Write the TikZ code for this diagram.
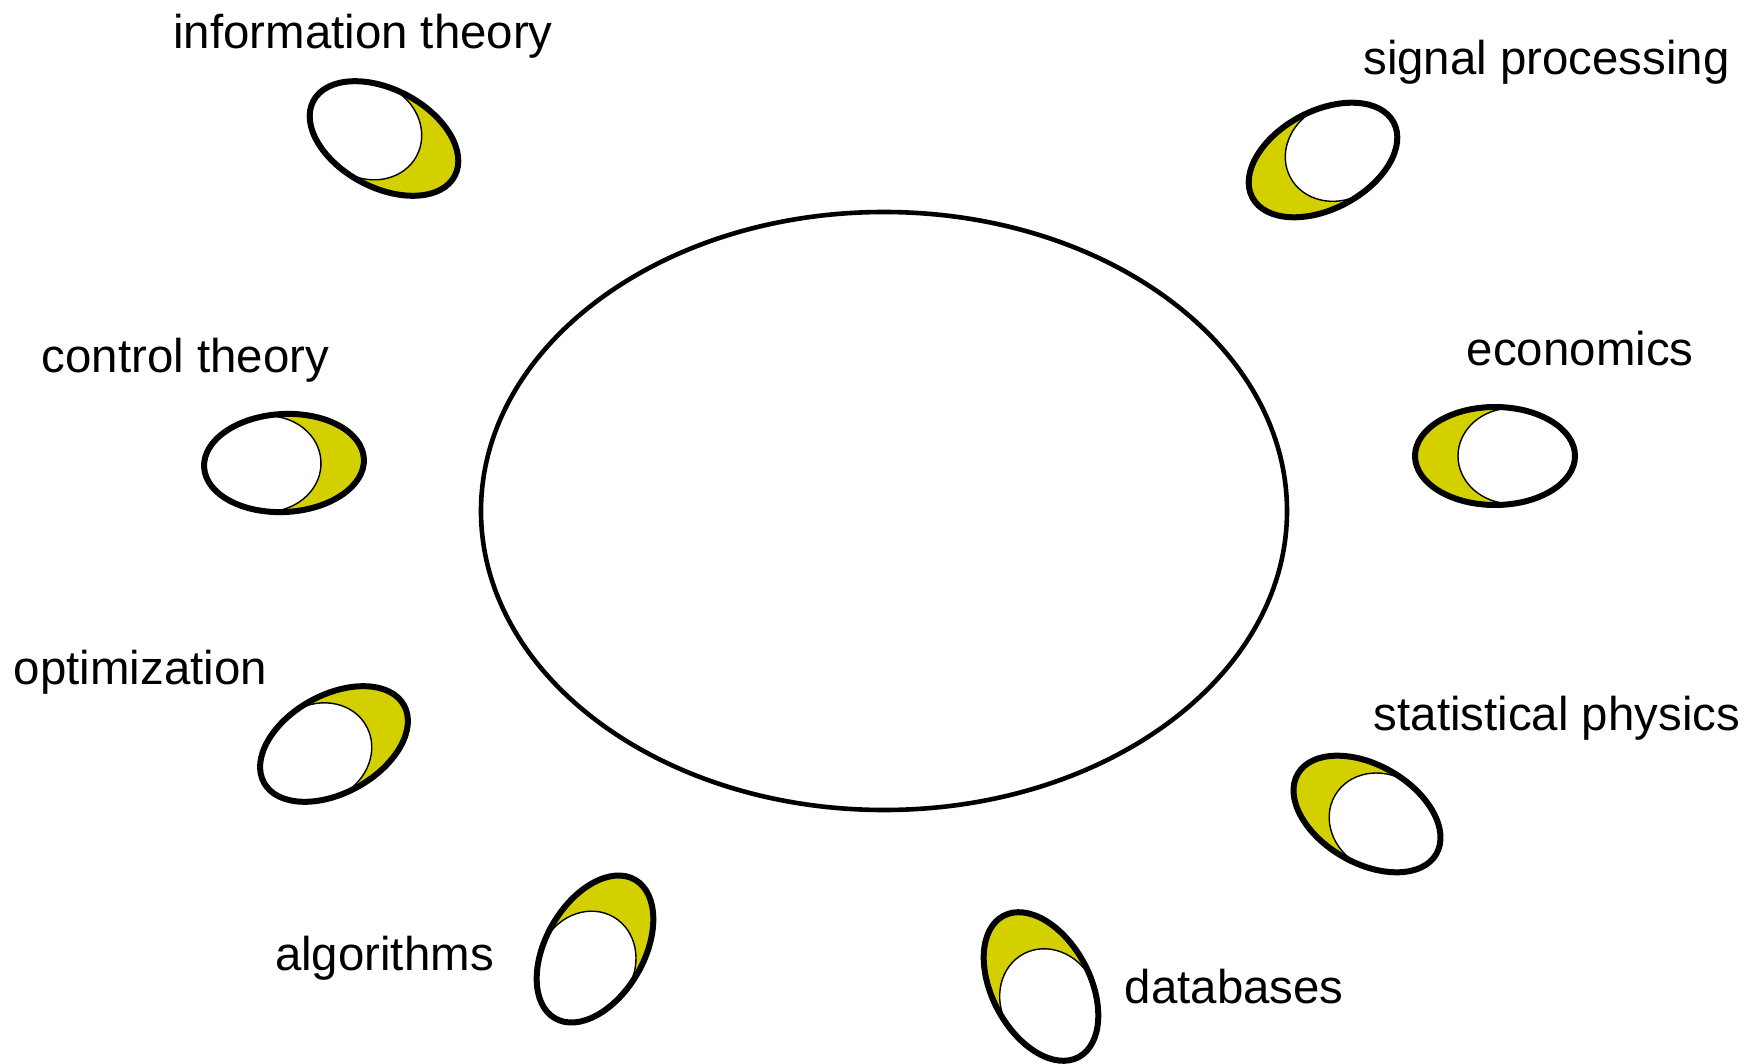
\documentclass[tikz,border=0pt]{standalone}
\usepackage{fontspec}
\setmainfont{Liberation Sans}
\usetikzlibrary{shapes.geometric}
\definecolor{moonyellow}{RGB}{212,208,0}
\tikzset{
  lbl/.style={anchor=base west, inner sep=0pt, font=\fontsize{23.7}{28}\selectfont},
  outerring/.style={draw=black, line width=3pt},
  innerrim/.style={fill=white, draw=black, line width=0.7pt},
}
\newcommand{\moonshape}[4]{%
  \begin{scope}[shift={(#1,#2)}, rotate=#3, xscale=#4]
    \fill[moonyellow] (0,0) ellipse (80 and 49);
    \filldraw[innerrim] (-17,-47.9) arc (-90:90:54 and 47.9) arc (102.3:257.7:80 and 49) -- cycle;
    \draw[outerring] (0,0) ellipse (80 and 49);
  \end{scope}}
\begin{document}
\begin{tikzpicture}[x=0.5pt,y=-0.5pt]
\useasboundingbox (0,0) rectangle (1758,1064);
% central ellipse
\node[ellipse, draw, line width=2.3pt, minimum width=403pt, minimum height=299pt, inner sep=0pt] (core) at (884,511) {};
% small moons
\moonshape{384}{138.5}{-28}{1}
\moonshape{1323}{160}{28}{-1}
\moonshape{284}{463}{3}{1}
\moonshape{1495}{456}{0}{-1}
\moonshape{334}{744}{29}{1}
\moonshape{1367}{814}{-30}{-1}
\moonshape{595}{949}{60}{1}
\moonshape{1041}{986.5}{-62}{-1}
% labels
\node[lbl] (info) at (173,48.5) {information theory};
\node[lbl] (signal) at (1363,74.5) {signal processing};
\node[lbl] (control) at (41.5,373) {control theory};
\node[lbl] (econ) at (1466.5,365) {economics};
\node[lbl] (optim) at (13.5,684) {optimization};
\node[lbl] (statphys) at (1373.5,730.5) {statistical physics};
\node[lbl] (algo) at (274.7,970.5) {algorithms};
\node[lbl] (db) at (1124.5,1003) {databases};
\end{tikzpicture}
\end{document}
